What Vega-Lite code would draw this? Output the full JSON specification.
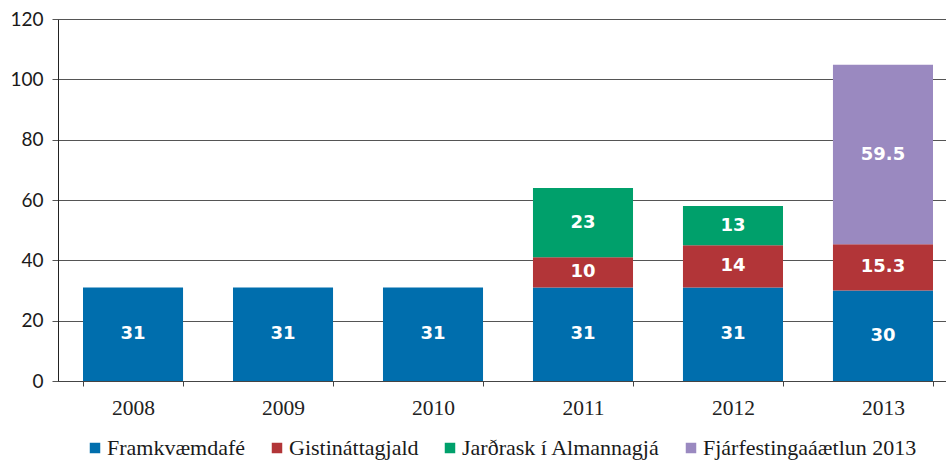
{
  "$schema": "https://vega.github.io/schema/vega-lite/v6.json",
  "width": 888,
  "height": 362,
  "autosize": "none",
  "padding": {"left": 58, "top": 19, "right": 0, "bottom": 81},
  "background": "white",
  "config": {"view": {"stroke": null}},
  "data": {
    "values": [
      {"year": "2008", "series": "Framkvæmdafé", "k": 1, "value": 31},
      {"year": "2009", "series": "Framkvæmdafé", "k": 1, "value": 31},
      {"year": "2010", "series": "Framkvæmdafé", "k": 1, "value": 31},
      {"year": "2011", "series": "Framkvæmdafé", "k": 1, "value": 31},
      {"year": "2011", "series": "Gistináttagjald", "k": 2, "value": 10},
      {"year": "2011", "series": "Jarðrask í Almannagjá", "k": 3, "value": 23},
      {"year": "2012", "series": "Framkvæmdafé", "k": 1, "value": 31},
      {"year": "2012", "series": "Gistináttagjald", "k": 2, "value": 14},
      {"year": "2012", "series": "Jarðrask í Almannagjá", "k": 3, "value": 13},
      {"year": "2013", "series": "Framkvæmdafé", "k": 1, "value": 30},
      {"year": "2013", "series": "Gistináttagjald", "k": 2, "value": 15.3},
      {"year": "2013", "series": "Fjárfestingaáætlun 2013", "k": 4, "value": 59.5}
    ]
  },
  "encoding": {
    "x": {
      "field": "year",
      "type": "ordinal",
      "scale": {"range": [0, 900], "paddingInner": 0.333, "paddingOuter": 0.1667},
      "axis": {
        "title": null,
        "labelAngle": 0,
        "labelFont": "Liberation Serif",
        "labelFontSize": 21.5,
        "labelColor": "#222222",
        "labelPadding": 11,
        "tickBand": "extent",
        "tickSize": 5,
        "tickColor": "#444444",
        "domainColor": "#444444",
        "grid": false
      }
    }
  },
  "layer": [
    {
      "mark": {"type": "bar"},
      "encoding": {
        "y": {
          "field": "value",
          "type": "quantitative",
          "stack": "zero",
          "scale": {"domain": [0, 120], "nice": false},
          "axis": {
            "title": null,
            "values": [0, 20, 40, 60, 80, 100, 120],
            "labelFont": "Lato",
            "labelFontSize": 19,
            "labelColor": "#1a1a1a",
            "labelPadding": 9,
            "tickSize": 6,
            "tickColor": "#555555",
            "domainColor": "#222222",
            "grid": true,
            "gridColor": "#555555",
            "gridWidth": 1
          }
        },
        "order": {"field": "k", "type": "quantitative"},
        "color": {
          "field": "series",
          "type": "nominal",
          "scale": {
            "domain": ["Framkvæmdafé", "Gistináttagjald", "Jarðrask í Almannagjá", "Fjárfestingaáætlun 2013"],
            "range": ["#006EAD", "#B23538", "#00A06B", "#9A89C0"]
          },
          "legend": {
            "title": null,
            "orient": "none",
            "direction": "horizontal",
            "legendX": 26,
            "legendY": 418,
            "padding": 0,
            "symbolType": "square",
            "symbolSize": 110,
            "symbolStrokeWidth": 0,
            "labelFont": "Liberation Serif",
            "labelFontSize": 22,
            "labelColor": "#1a1a1a",
            "labelLimit": 500,
            "labelOffset": 1,
            "columnPadding": 20
          }
        }
      }
    },
    {
      "transform": [
        {"stack": "value", "groupby": ["year"], "sort": [{"field": "k"}], "as": ["v0", "v1"]},
        {"fold": ["v0", "v1"], "as": ["end", "pos"]},
        {"aggregate": [{"op": "mean", "field": "pos", "as": "mid"}], "groupby": ["year", "series", "value", "k"]}
      ],
      "mark": {
        "type": "text",
        "font": "DejaVu Sans",
        "fontWeight": "bold",
        "fontSize": 18,
        "color": "white",
        "baseline": "middle",
        "align": "center"
      },
      "encoding": {
        "y": {"field": "mid", "type": "quantitative"},
        "text": {"field": "value", "type": "quantitative"}
      }
    }
  ]
}
